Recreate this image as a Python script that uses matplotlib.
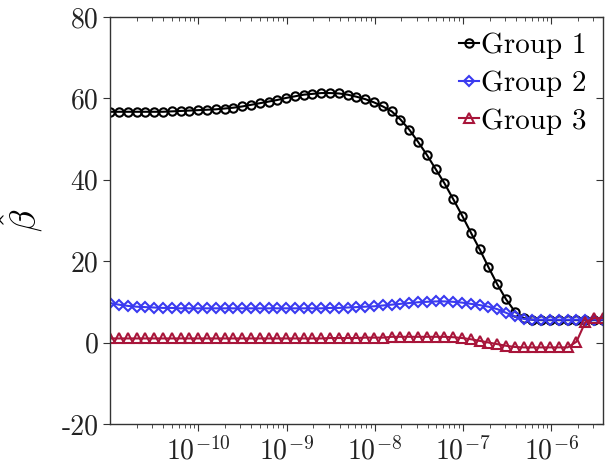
import numpy as np
import matplotlib
matplotlib.use("Agg")
import matplotlib.pyplot as plt
from matplotlib.ticker import FuncFormatter, LogLocator, FixedLocator

plt.rcParams.update({
    "font.family": "serif",
    "font.serif": ["cmr10", "DejaVu Serif"],
    "mathtext.fontset": "cm",
    "axes.unicode_minus": False,
    "axes.formatter.use_mathtext": True,
})

# x grid: log-spaced penalty values
x = np.logspace(-11, -5.415, 57)

group1 = [56.7, 56.7, 56.7, 56.7, 56.7, 56.7, 56.7, 56.8, 56.9, 57.0,
          57.1, 57.2, 57.3, 57.5, 57.7, 58.0, 58.4, 58.8, 59.2, 59.6,
          60.1, 60.5, 60.9, 61.1, 61.3, 61.3, 61.2, 60.9, 60.4, 59.8,
          59.0, 58.0, 56.8, 54.8, 52.3, 49.3, 46.1, 42.6, 39.1, 35.2,
          31.2, 27.0, 22.9, 18.5, 14.3, 10.6, 7.6, 6.0, 5.6, 5.5,
          5.5, 5.5, 5.5, 5.5, 5.5, 5.5, 5.5]
group2 = [9.7, 9.3, 9.0, 8.8, 8.7, 8.6, 8.5, 8.5, 8.4, 8.4,
          8.4, 8.4, 8.4, 8.4, 8.4, 8.4, 8.4, 8.4, 8.4, 8.4,
          8.4, 8.4, 8.4, 8.4, 8.4, 8.5, 8.5, 8.6, 8.7, 8.8,
          8.9, 9.1, 9.3, 9.5, 9.7, 9.9, 10.0, 10.1, 10.1, 10.0,
          9.8, 9.5, 9.2, 8.8, 8.2, 7.3, 6.4, 5.8, 5.6, 5.6,
          5.6, 5.6, 5.6, 5.6, 5.6, 5.6, 5.6]
group3 = [1.0, 1.0, 1.0, 1.0, 1.0, 1.0, 1.0, 1.0, 1.0, 1.0,
          1.0, 1.0, 1.0, 1.0, 1.0, 1.0, 1.0, 1.0, 1.0, 1.0,
          1.0, 1.0, 1.0, 1.0, 1.0, 1.1, 1.1, 1.1, 1.1, 1.2,
          1.2, 1.2, 1.4, 1.4, 1.4, 1.4, 1.4, 1.4, 1.4, 1.3,
          1.1, 0.8, 0.4, 0.0, -0.4, -0.8, -1.1, -1.2, -1.2, -1.2,
          -1.2, -1.2, -1.2, 0.2, 5.0, 6.0, 6.0]

labels = ["Group 1", "Group 2", "Group 3"]
yticks = [-20, 0, 20, 40, 60, 80]
xticks = [1e-10, 1e-9, 1e-8, 1e-7, 1e-6]

fig = plt.figure(figsize=(6.05, 4.71), dpi=100)
rect = [0.182, 0.1, 0.8145, 0.864]
ax = fig.add_axes(rect)

ax.plot(x, group1, color="black", lw=1.5, marker="o", ms=6, mfc="none", mew=1.5, label=labels[0])
ax.plot(x, group2, color="#3a3af0", lw=1.5, marker="D", ms=5, mfc="none", mew=1.5, label=labels[1])
ax.plot(x, group3, color="#a8153a", lw=1.5, marker="^", ms=6.5, mfc="none", mew=1.5, label=labels[2])

ax.set_xscale("log")
ax.set_xlim(x[0], x[-1])
ax.set_ylim(-20, 80)
ax.xaxis.set_major_locator(FixedLocator(xticks))
ax.xaxis.set_minor_locator(LogLocator(base=10, subs=np.arange(2, 10), numticks=20))
ax.xaxis.set_major_formatter(FuncFormatter(lambda v, p: r"$10^{%d}$" % int(round(np.log10(v)))))
ax.set_yticks(yticks)
ax.set_yticklabels([str(t) for t in yticks])

spine_col = "#333333"
for s in ax.spines.values():
    s.set_color(spine_col)
    s.set_linewidth(1.0)
ax.tick_params(which="both", direction="out", colors=spine_col, labelcolor="#222222",
               labelsize=20, top=False, right=False)
ax.tick_params(which="major", length=5)
ax.tick_params(which="minor", length=3)
ax.tick_params(axis="x", pad=4)

# inward ticks on top and right
ov = fig.add_axes(rect, sharex=ax, sharey=ax)
ov.patch.set_visible(False)
for s in ov.spines.values():
    s.set_visible(False)
ov.tick_params(which="both", direction="in", colors=spine_col, left=False, bottom=False,
               labelleft=False, labelbottom=False, top=True, right=True)
ov.tick_params(which="major", length=5)
ov.tick_params(which="minor", length=3)

ax.set_ylabel(r"$\hat{\beta}$", fontsize=26, labelpad=12)

leg = ax.legend(loc="upper right", frameon=False, fontsize=21, handlelength=0.7,
                handletextpad=0.08, labelspacing=0.38, borderaxespad=0.3, borderpad=0.25)

fig.savefig("out.png", dpi=100, facecolor="white")
